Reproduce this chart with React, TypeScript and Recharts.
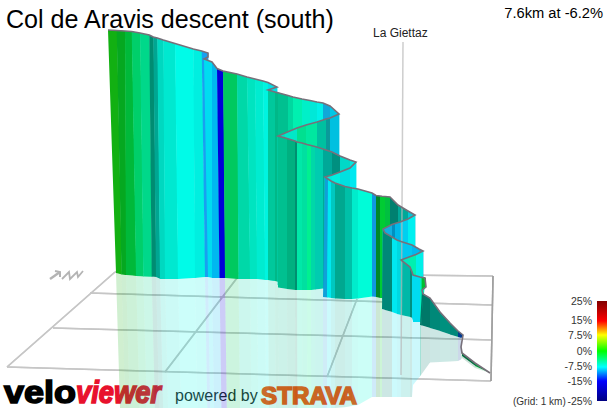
import React from 'react';
import { ComposedChart, Area, Line, XAxis, YAxis } from 'recharts';

// Ribbon, one entry per strip edge, in road order. null tint = no face to next edge.
const ridgeX = [108,116.7,125,131.7,140,149.3,153.3,157.3,163.3,175,193.3,201.7,208,208,
  204,212,217,223,237,247,255,263,268,277,
  268,275,278,288,293,302,310,317,323,330,339,
  339,330,326,317,306,297,285,278,
  278,287,295,297,302,307,311,315,323,332,340,350,356,
  356,350,340,332,325,
  325,328,331,335,345,352,358,372,376,380,382,385,390,398,408,415,
  415,408,400,395,392,383,
  383,385,392,397,401,412,419,423,
  423,416,409,401,
  401,410,412,413,420,425,
  426,422,
  422,423,430,440,450,458,463,461,
  461,462,475,490];
const ridgeY = [30,30.5,31,31.5,33,35,37,38,40,43.5,49,51,53,57,
  59,62,68.5,71,74,77,79,81,82.5,87,
  90,92,92.8,95.5,97,99,100.5,102,103,106,114,
  114,118,119,122,125,128,133,136,
  136,138.5,141,142,143,144.5,145.5,146.5,149,152,156,160,162,
  162,168,172,175,177,
  177,179,181,183,186.5,188,189,193,195.5,196,196.3,196.5,197,205,211,215,
  215,219,222,223.5,224.5,229,
  229,233,237,240,241.5,245,249,251,
  251,254.5,257,260,
  260,267,272,275,277,278,
  287,290,
  290,294,298,312,323,331,335,347,
  347,353,363,373];
const footX = [116,121.5,126,136,143.3,151.7,156,160,165,178,195,205,208,208,
  208,212,219.5,225,238.5,250,257,265,268,277,
  268,275,278,288,293,302,310,317,323,330,339,
  339,330,326,317,306,297,285,278,
  278,287,295,297,302,307,311,315,323,332,340,350,356,
  356,350,340,332,325,
  323,327,331,335,345,352,358,372,376,380,382,385,390,398,408,415,
  415,408,400,395,392,383,
  382,385,392,397,401,412,419,423,
  423,416,409,401,
  401,410,412,413,420,421,
  426,422,
  420,421,430,440,450,458,461,461,
  461,462,475,490];
const footY = [273,274.5,275,276,276.5,276.7,277,279,279,279,278,277,277,277,
  277,278,278,278,279,279,279,280,280,281,
  280,281,282,285,285,285,285,285,285,285,285,
  285,285,285,285,285,285,285,285,
  287.5,289,290,290,290,290,290,289.5,288.5,290,290,290,290,
  290,290,290,290,290,
  297,297.5,298,298.5,299,299,298.5,296.5,297,298,298,300,300,300,300,300,
  300,300,300,300,300,300,
  309,310,312,314,315,315,315,315,
  315,315,315,315,
  315,317,318,322,322,323,
  278,278,
  325,325.3,328,331,334.5,337,338,347,
  350,356,366,373];
const faceTint = ['#12b012','#05a820','#00b93a','#00cf6a','#00d88a','#008c72','#00a692','#00d8c0','#00e8d0','#00fbe8','#00efe0','#18a0f0',null,null,
  '#00dcf0','#00b8f0','#0000d8','#00c95f','#00d8a8','#00e4c0','#00ecd0','#00f4e0','#00e0e8',null,
  '#00c89c','#00b888','#00c090','#00d8a0','#00f0b0','#00f0c8','#00e8d8','#00f0e8','#10a8d8','#00c8e8',null,
  '#00c0e0','#0a9a9a','#00c0a0','#00e8a0','#00e090','#00e8c8','#00e0c0',null,
  '#00c090','#00b080','#008f70','#00e8a8','#00e0a0','#00f090','#00d8a8','#00ccb0','#00a898','#009080','#00d8c8','#00e8e0',null,
  '#00e8f0','#00e0e0','#00f0e0','#00e8e0',null,
  '#10a0d8','#00e8f0','#00c8c0','#00a890','#00c0a8','#00eccc','#00fcd8','#1098e0','#008828','#00cc33','#00cc33','#00c040','#008070','#00a898','#00c8d8',null,
  '#00f0f0','#00d0f0','#00b8e8','#0090c0','#10b0e0',null,
  '#008878','#008878','#00e8f0','#00d8e0','#00c8f0','#00b8f0','#10a8d8',null,
  '#00f0e8','#00f0b0','#00e8c0',null,
  '#00b8a8','#009080','#00dcf0','#00dcf0','#00f0c0',null,
  '#00c030',null,
  '#007868','#007868','#008878','#00907e','#00887a','#003a90',null,null,
  '#00a040','#007040','#00983c',null];

// Lower limit of the pale reflection on the floor.
const floorX = [100,340,358,370,412,413,421,422,460,462,475,490];
const floorY = [408,408,405,397,397,385,375,363,361,358,368,373];

// Floor grid: [x0, y0, x1, y1]
const gridLines = [
  [115,272,7,367],[7,367,491,381],[90,293,492,305],[53,328,492,340],
  [115,272,493,276],[237,278,165,372],[357,299,327,377],
];
const gridFrame = [493,276,491,381];
const townLine = [403,42,401,375];
const arrowPath = [[50,279],[60,272]];
const arrowHead = [[55,271],[60,272],[60,277]];
const zigzagPath = [[62,279],[69,272],[70,279],[77,272],[78,277],[83,271]];

const legendStops = [
  [0,'#800000'],[0.2,'#ff0000'],[0.27,'#ff8000'],[0.34,'#ffff00'],[0.5,'#00ff00'],[0.66,'#00ffff'],[0.8,'#0000ff'],[1,'#000080'],
];
const legendTicks = [['25%',301],['15%',320],['7.5%',335],['0%',351],['-7.5%',366],['-15%',381],['-25%',401]];
const legendBox = [597,607,301,401];

type P = [number, number];

function polygonToRange(poly: P[]) {
  const xs = Array.from(new Set(poly.map((p) => p[0]))).sort((a, b) => a - b);
  return xs.map((x) => {
    const ys: number[] = [];
    poly.forEach((a, i) => {
      const b = poly[(i + 1) % poly.length];
      const lo = Math.min(a[0], b[0]);
      const hi = Math.max(a[0], b[0]);
      if (x < lo || x > hi) return;
      if (a[0] === b[0]) ys.push(a[1], b[1]);
      else ys.push(a[1] + ((x - a[0]) / (b[0] - a[0])) * (b[1] - a[1]));
    });
    return { x, r: [Math.min(...ys), Math.max(...ys)] };
  });
}

function floorAt(x: number) {
  for (let i = 1; i < floorX.length; i++) {
    if (x <= floorX[i]) {
      const t = (x - floorX[i - 1]) / (floorX[i] - floorX[i - 1]);
      return floorY[i - 1] + t * (floorY[i] - floorY[i - 1]);
    }
  }
  return floorY[floorY.length - 1];
}
const drift = (x: number) => 4 * Math.max(0, 1 - (x - 116) / 200);

const faces = faceTint.flatMap((tint, i) =>
  tint
    ? [{
        tint,
        data: polygonToRange([
          [ridgeX[i], ridgeY[i]],
          [ridgeX[i + 1] + (ridgeX[i + 1] > ridgeX[i] ? 0.4 : -0.4), ridgeY[i + 1]],
          [footX[i + 1] + (footX[i + 1] > footX[i] ? 0.4 : -0.4), footY[i + 1]],
          [footX[i], footY[i]],
        ]),
      }]
    : []
);

const mirrored: { tint: string; data: any[] }[] = [];
let minFoot = 1000;
for (let i = faceTint.length - 2; i >= 0; i--) {
  const tint = faceTint[i];
  if (!tint) continue;
  const a = footX[i];
  const b = footX[i + 1];
  if (b <= a || b > minFoot + 1) continue;
  minFoot = a;
  mirrored.unshift({
    tint,
    data: polygonToRange([
      [a, footY[i]],
      [b, footY[i + 1]],
      [b + drift(b), floorAt(b + drift(b))],
      [a + drift(a), floorAt(a + drift(a))],
    ]),
  });
}

const ridge = ridgeX.map((x, i) => ({ x, y: ridgeY[i] }));
const toSeg = (s: number[]) =>
  [{ x: s[0], r: [s[1], s[1]] }, { x: s[2], r: [s[3], s[3]] }].sort((p, q) => p.x - q.x);
const FONT = '"Liberation Sans", Arial, sans-serif';

export default function App() {
  return (
    <div style={{ position: 'absolute', left: 0, top: 0, width: 609, height: 408, background: '#fff', overflow: 'hidden' }}>
      <ComposedChart width={609} height={408} margin={{ top: 0, right: 0, bottom: 0, left: 0 }}>
        <defs>
          <linearGradient id="gradeScale" x1="0" y1="0" x2="0" y2="1">
            {legendStops.map(([o, c]) => (
              <stop key={String(o)} offset={o as number} stopColor={c as string} />
            ))}
          </linearGradient>
        </defs>
        <XAxis type="number" dataKey="x" domain={[0, 609]} hide allowDataOverflow />
        <YAxis type="number" domain={[0, 408]} reversed hide allowDataOverflow />
        {gridLines.map((s, i) => (
          <Area key={'g' + i} data={toSeg(s)} dataKey="r" type="linear" stroke="#c6c6c6" strokeWidth={1.5} fill="none" dot={false} activeDot={false} isAnimationActive={false} />
        ))}
        <Area data={toSeg(gridFrame)} dataKey="r" type="linear" stroke="#a0a0a0" strokeWidth={1.5} fill="none" dot={false} activeDot={false} isAnimationActive={false} />
        {mirrored.map((f, i) => (
          <Area key={'m' + i} data={f.data} dataKey="r" type="linear" stroke="none" fill={f.tint} fillOpacity={0.2} dot={false} activeDot={false} isAnimationActive={false} />
        ))}
        {faces.map((f, i) => (
          <Area key={'f' + i} data={f.data} dataKey="r" type="linear" stroke="none" fill={f.tint} fillOpacity={1} dot={false} activeDot={false} isAnimationActive={false} />
        ))}
        <Area
          data={[{ x: legendBox[0], r: [legendBox[2], legendBox[3]] }, { x: legendBox[1], r: [legendBox[2], legendBox[3]] }]}
          dataKey="r" type="linear" stroke="none" fill="url(#gradeScale)" fillOpacity={1} dot={false} activeDot={false} isAnimationActive={false}
        />
        <Line data={[{ x: townLine[0], y: townLine[1] }, { x: townLine[2], y: townLine[3] }]} dataKey="y" type="linear" stroke="#b8b8b8" strokeOpacity={0.7} strokeWidth={1.5} dot={false} activeDot={false} isAnimationActive={false} />
        <Line data={ridge} dataKey="y" type="linear" stroke="#77707a" strokeWidth={1.6} dot={false} activeDot={false} isAnimationActive={false} />
        <Line data={arrowPath.map(([x, y]) => ({ x, y }))} dataKey="y" type="linear" stroke="#b4b4b4" strokeWidth={2.4} dot={false} activeDot={false} isAnimationActive={false} />
        <Line data={arrowHead.map(([x, y]) => ({ x, y }))} dataKey="y" type="linear" stroke="#b4b4b4" strokeWidth={2} dot={false} activeDot={false} isAnimationActive={false} />
        <Line data={zigzagPath.map(([x, y]) => ({ x, y }))} dataKey="y" type="linear" stroke="#b4b4b4" strokeWidth={1.8} dot={false} activeDot={false} isAnimationActive={false} />

        <text x={6} y={28} fontFamily={FONT} fontSize={25.1} fill="#000">Col de Aravis descent (south)</text>
        <text x={603} y={18} textAnchor="end" fontFamily={FONT} fontSize={14.7} fill="#000">7.6km at -6.2%</text>
        <text x={373} y={37} fontFamily={FONT} fontSize={12} fill="#222">La Giettaz</text>
        {legendTicks.map(([t, y]) => (
          <text key={String(t)} x={592} y={(y as number) + 4} textAnchor="end" fontFamily={FONT} fontSize={10.5} fill="#333">{t}</text>
        ))}
        <text x={513} y={405} fontFamily={FONT} fontSize={10} fill="#333">(Grid: 1 km)</text>
        <text x={4} y={402.5} fontFamily={FONT} fontSize={30.5} fontWeight={700} fill="#000" stroke="#000" strokeWidth={1.5} textLength={72} lengthAdjust="spacingAndGlyphs">velo</text>
        <text x={76} y={402.5} fontFamily={FONT} fontSize={30.5} fontWeight={700} fontStyle="italic" fill="#e8112d" stroke="#e8112d" strokeWidth={1.5} textLength={85} lengthAdjust="spacingAndGlyphs">viewer</text>
        <text x={175} y={401} fontFamily={FONT} fontSize={16} fill="#222">powered by</text>
        <text x={261} y={404} fontFamily={FONT} fontSize={23.5} fontWeight={700} fill="#fc4c02" stroke="#fc4c02" strokeWidth={1.5} textLength={96} lengthAdjust="spacingAndGlyphs">STRAVA</text>
      </ComposedChart>
    </div>
  );
}
